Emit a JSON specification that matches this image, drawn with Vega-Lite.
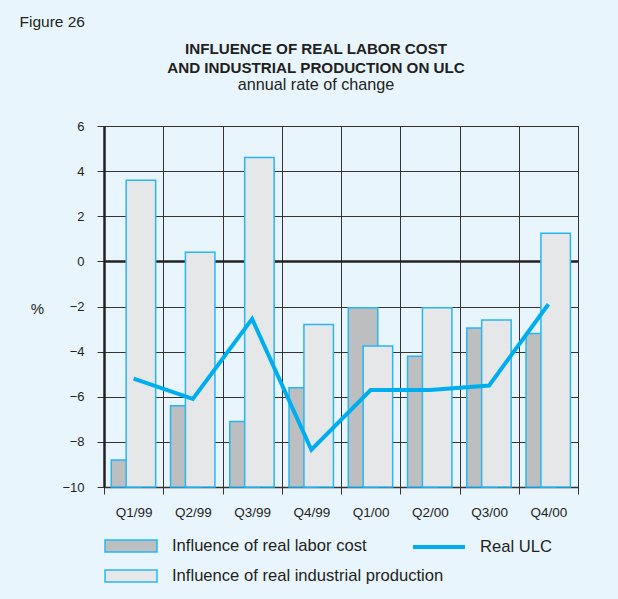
{
  "$schema": "https://vega.github.io/schema/vega-lite/v6.json",
  "autosize": {"type": "none"},
  "width": 474,
  "height": 361,
  "padding": {"left": 104, "top": 126, "right": 40, "bottom": 112},
  "background": "#e8f5fd",
  "config": {
    "font": "Liberation Sans",
    "view": {"stroke": "#333333", "strokeWidth": 1},
    "axis": {"labelFont": "Liberation Sans", "titleFont": "Liberation Sans", "labelColor": "#231f20", "titleColor": "#231f20"}
  },
  "title": {
    "text": ["INFLUENCE OF REAL LABOR COST", "AND INDUSTRIAL PRODUCTION ON ULC"],
    "subtitle": "annual rate of change",
    "anchor": "middle",
    "frame": "group",
    "dx": -25,
    "font": "Liberation Sans",
    "fontSize": 15.2,
    "fontWeight": "bold",
    "color": "#231f20",
    "lineHeight": 19,
    "subtitleFont": "Liberation Sans",
    "subtitleFontSize": 16.2,
    "subtitleColor": "#231f20",
    "subtitlePadding": 1,
    "offset": -79
  },
  "data": {
    "values": [
      {"quarter": "Q1/99", "labor": -8.8, "industrial": 3.6, "ulc": -5.2},
      {"quarter": "Q2/99", "labor": -6.4, "industrial": 0.4, "ulc": -6.1},
      {"quarter": "Q3/99", "labor": -7.1, "industrial": 4.6, "ulc": -2.55},
      {"quarter": "Q4/99", "labor": -5.6, "industrial": -2.8, "ulc": -8.35},
      {"quarter": "Q1/00", "labor": -2.05, "industrial": -3.75, "ulc": -5.7},
      {"quarter": "Q2/00", "labor": -4.2, "industrial": -2.05, "ulc": -5.7},
      {"quarter": "Q3/00", "labor": -2.95, "industrial": -2.6, "ulc": -5.5},
      {"quarter": "Q4/00", "labor": -3.2, "industrial": 1.25, "ulc": -1.9}
    ]
  },
  "encoding": {
    "x": {
      "field": "quarter",
      "type": "nominal",
      "sort": null,
      "scale": {"paddingInner": 0, "paddingOuter": 0},
      "axis": {
        "title": "Figure 26",
        "titleX": -85,
        "titleY": -461,
        "titleAlign": "left",
        "titleBaseline": "alphabetic",
        "titleFontSize": 15.5,
        "titleFontWeight": "normal",
        "labelAngle": 0,
        "labelFontSize": 13.5,
        "labelPadding": 11,
        "tickBand": "extent",
        "tickSize": 7,
        "tickColor": "#333333",
        "domainColor": "#333333",
        "domainWidth": 1.5,
        "grid": true,
        "gridColor": "#333333",
        "gridWidth": 1
      }
    }
  },
  "layer": [
    {
      "data": {"values": [{"z": 0}]},
      "mark": {"type": "rule", "color": "#222222", "strokeWidth": 2.5},
      "encoding": {"x": null, "y": {"field": "z", "type": "quantitative"}}
    },
    {
      "mark": {"type": "bar", "width": 29.5, "xOffset": -7.6, "stroke": "#29b6ef", "strokeWidth": 1.5},
      "encoding": {
        "y": {
          "field": "labor",
          "type": "quantitative",
          "scale": {"domain": [-10, 6], "nice": false, "zero": false},
          "axis": {
            "values": [-10, -8, -6, -4, -2, 0, 2, 4, 6],
            "title": "%",
            "titleAngle": 0,
            "titleX": -67,
            "titleY": 182,
            "titleAlign": "center",
            "titleBaseline": "middle",
            "titleFontSize": 15,
            "titleFontWeight": "normal",
            "labelFontSize": 13,
            "labelPadding": 13,
            "tickSize": 7,
            "tickColor": "#333333",
            "domainColor": "#222222",
            "domainWidth": 2.5,
            "grid": true,
            "gridColor": "#333333",
            "gridWidth": 1
          }
        },
        "y2": {"datum": -10},
        "fill": {
          "datum": "Influence of real labor cost",
          "scale": {"range": ["#bdbec0"]},
          "legend": {
            "title": null,
            "orient": "none",
            "legendX": 0,
            "legendY": 393,
            "symbolType": "M-1,-0.23H1V0.23H-1Z",
            "symbolSize": 2704,
            "symbolStrokeColor": "#29b6ef",
            "symbolStrokeWidth": 1.5,
            "symbolOpacity": 1,
            "labelFont": "Liberation Sans",
            "labelFontSize": 16.6,
            "labelColor": "#231f20",
            "labelOffset": 14,
            "labelLimit": 400,
            "encode": {"symbols": {"update": {"stroke": {"value": "#29b6ef"}, "strokeWidth": {"value": 1.5}}}}
          }
        }
      }
    },
    {
      "mark": {"type": "bar", "width": 29.5, "xOffset": 7.3, "stroke": "#29b6ef", "strokeWidth": 1.5},
      "encoding": {
        "y": {"field": "industrial", "type": "quantitative"},
        "y2": {"datum": -10},
        "fill": {
          "datum": "Influence of real industrial production",
          "scale": {"range": ["#e6e7e8"]},
          "legend": {
            "title": null,
            "orient": "none",
            "legendX": 0,
            "legendY": 423,
            "symbolType": "M-1,-0.23H1V0.23H-1Z",
            "symbolSize": 2704,
            "symbolStrokeColor": "#29b6ef",
            "symbolStrokeWidth": 1.5,
            "symbolOpacity": 1,
            "labelFont": "Liberation Sans",
            "labelFontSize": 16.6,
            "labelColor": "#231f20",
            "labelOffset": 14,
            "labelLimit": 400,
            "encode": {"symbols": {"update": {"stroke": {"value": "#29b6ef"}, "strokeWidth": {"value": 1.5}}}}
          }
        }
      }
    },
    {
      "mark": {"type": "line", "strokeWidth": 4},
      "encoding": {
        "y": {"field": "ulc", "type": "quantitative"},
        "stroke": {
          "datum": "Real ULC",
          "scale": {"range": ["#00aeef"]},
          "legend": {
            "title": null,
            "orient": "none",
            "legendX": 307,
            "legendY": 393,
            "symbolType": "stroke",
            "symbolSize": 2704,
            "symbolStrokeWidth": 4,
            "labelFont": "Liberation Sans",
            "labelFontSize": 16.6,
            "labelColor": "#231f20",
            "labelOffset": 13,
            "labelLimit": 400
          }
        }
      }
    }
  ],
  "resolve": {"scale": {"fill": "independent", "stroke": "independent"}, "legend": {"fill": "independent", "stroke": "independent"}}
}
